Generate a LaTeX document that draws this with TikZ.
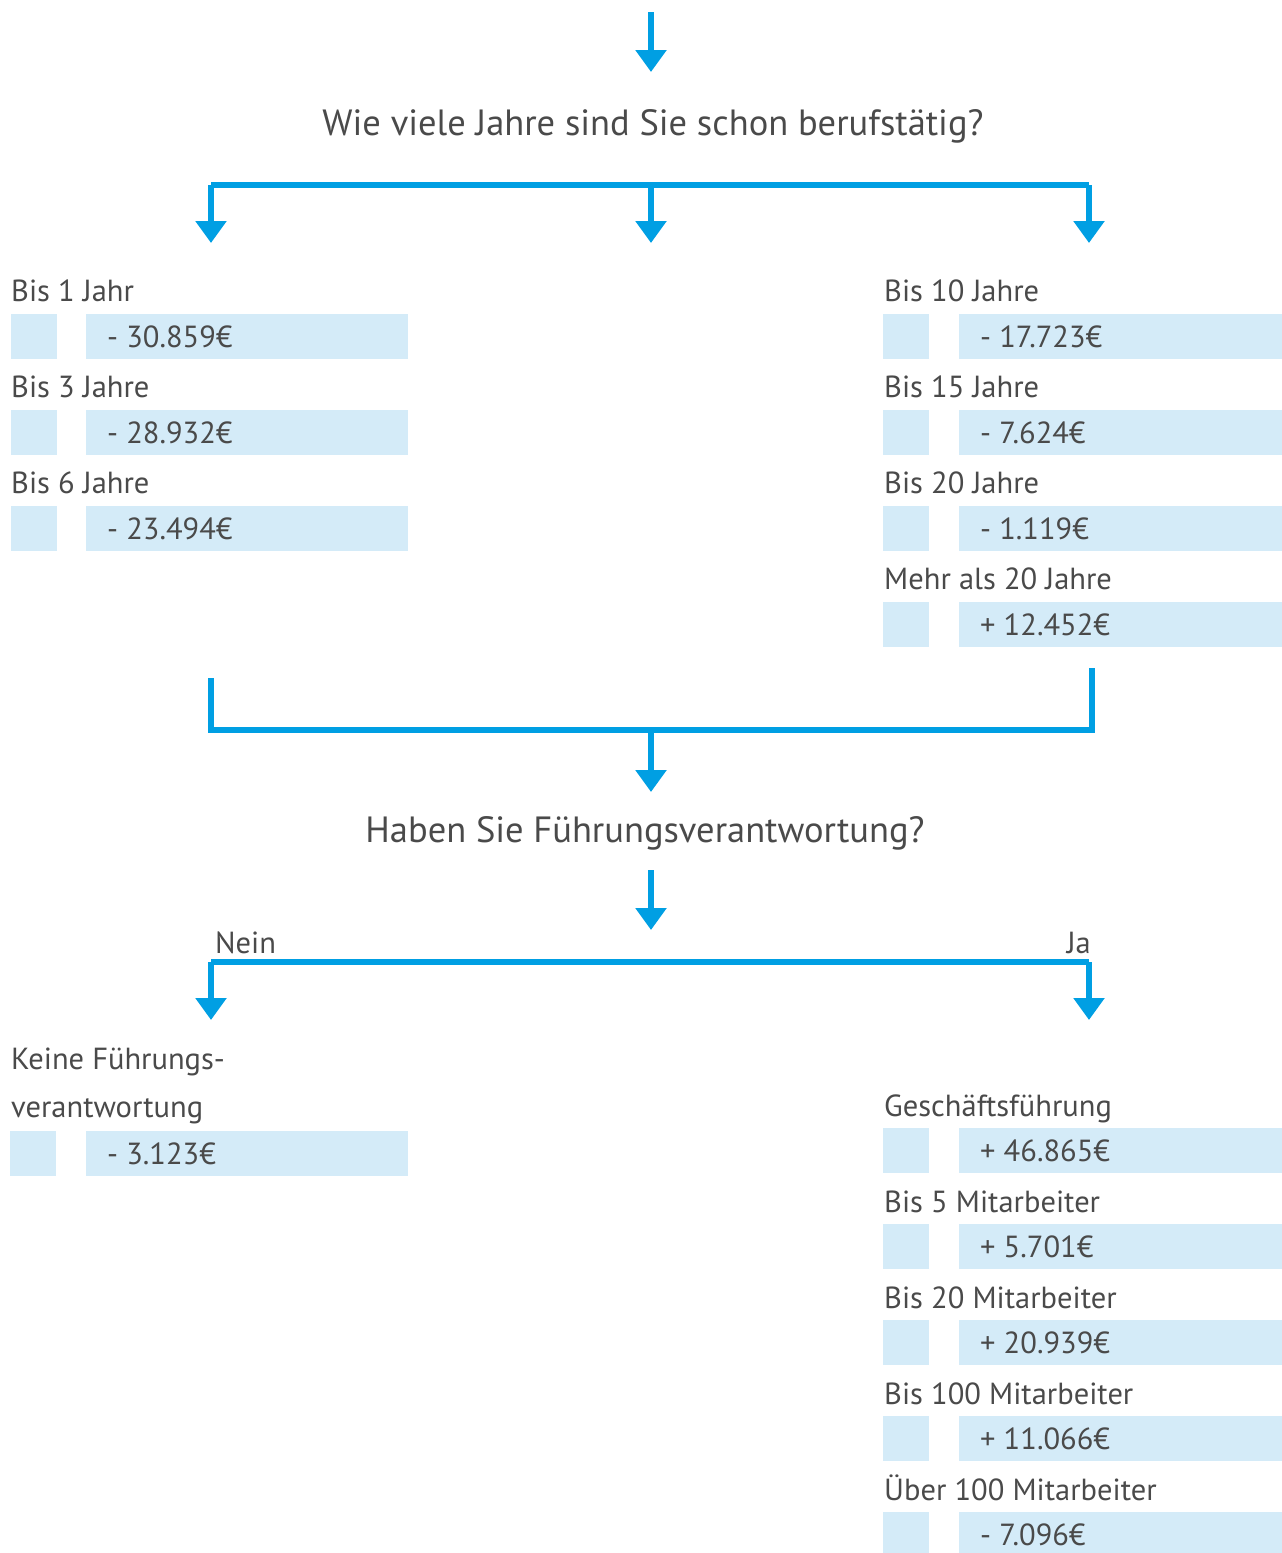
\documentclass[tikz,border=0pt]{standalone}
\usepackage{fontspec}
\setmainfont{PT Sans}
\usetikzlibrary{arrows.meta}
\definecolor{flowblue}{HTML}{009FE3}
\definecolor{boxblue}{HTML}{D4EBF8}
\definecolor{txtgray}{HTML}{4A4A4A}
\tikzset{
  flow/.style={line width=6pt, color=flowblue, line join=miter},
  tip/.style={-{Triangle[width=30pt,length=22pt]}},
  lbl/.style={anchor=base west, inner sep=0pt, text=txtgray, font=\fontsize{30.5}{36}\selectfont},
  qtxt/.style={anchor=base, inner sep=0pt, text=txtgray, font=\fontsize{36.5}{42}\selectfont},
  sbox/.style={anchor=north west, fill=boxblue, inner sep=0pt, minimum width=46pt, minimum height=45pt},
  bbox/.style={anchor=north west, fill=boxblue, inner sep=0pt, minimum height=45pt},
}
\begin{document}
\begin{tikzpicture}[x=1pt,y=-1pt]
\useasboundingbox (0,0) rectangle (1282,1553);

% questions
\node[qtxt] (q1) at (653,135) {Wie viele Jahre sind Sie schon berufstätig?};
\node[qtxt] (q2) at (645,842) {Haben Sie Führungsverantwortung?};

% top arrow
\coordinate (s0) at (651,12);
\coordinate (t0) at (651,72);
\draw[flow,tip] (s0) -- (t0);

% first branch
\coordinate (jL) at (211,185);
\coordinate (jC) at (651,185);
\coordinate (jR) at (1089,185);
\coordinate (tL) at (211,243);
\coordinate (tC) at (651,243);
\coordinate (tR) at (1089,243);
\draw[flow] (jL) -- (jR);
\draw[flow,tip] (jL) -- (tL);
\draw[flow,tip] (jC) -- (tC);
\draw[flow,tip] (jR) -- (tR);

% left column
\foreach \i/\lab/\val in {0/Bis 1 Jahr/- 30.859€, 1/Bis 3 Jahre/- 28.932€, 2/Bis 6 Jahre/- 23.494€}{
  \node[lbl] (ll\i) at (11,{301+96*\i}) {\lab};
  \node[sbox] (ls\i) at (11,{314+96*\i}) {};
  \node[bbox, minimum width=322pt] (lb\i) at (86,{314+96*\i}) {};
  \node[lbl] (lv\i) at (107,{347+96*\i}) {\val};
}

% right column
\foreach \i/\lab/\val in {0/Bis 10 Jahre/- 17.723€, 1/Bis 15 Jahre/- 7.624€, 2/Bis 20 Jahre/- 1.119€, 3/Mehr als 20 Jahre/+ 12.452€}{
  \node[lbl] (rl\i) at (884,{301+96*\i}) {\lab};
  \node[sbox] (rs\i) at (883,{314+96*\i}) {};
  \node[bbox, minimum width=323pt] (rb\i) at (959,{314+96*\i}) {};
  \node[lbl] (rv\i) at (980,{347+96*\i}) {\val};
}

% merge
\coordinate (mL0) at (211,678);
\coordinate (mL) at (211,730);
\coordinate (mC) at (651,730);
\coordinate (mR) at (1092,730);
\coordinate (mR0) at (1092,668);
\coordinate (mT) at (651,792);
\draw[flow] (mL0) -- (mL) -- (mR) -- (mR0);
\draw[flow,tip] (mC) -- (mT);

% second question arrow
\coordinate (s2) at (651,870);
\coordinate (t2) at (651,930);
\draw[flow,tip] (s2) -- (t2);

% Nein / Ja branch
\coordinate (nL) at (211,962);
\coordinate (nR) at (1089,962);
\coordinate (nLt) at (211,1020);
\coordinate (nRt) at (1089,1020);
\draw[flow] (nL) -- (nR);
\draw[flow,tip] (nL) -- (nLt);
\draw[flow,tip] (nR) -- (nRt);
\node[lbl] (nein) at (215,953) {Nein};
\node[lbl, anchor=base east] (ja) at (1091,953) {Ja};

% left bottom
\node[lbl] (k1) at (11,1069) {Keine Führungs-};
\node[lbl] (k2) at (11,1117) {verantwortung};
\node[sbox] (ks) at (10,1131) {};
\node[bbox, minimum width=322pt] (kb) at (86,1131) {};
\node[lbl] (kv) at (107,1164) {- 3.123€};

% right bottom
\foreach \i/\lab/\val in {0/Geschäftsführung/+ 46.865€, 1/Bis 5 Mitarbeiter/+ 5.701€, 2/Bis 20 Mitarbeiter/+ 20.939€, 3/Bis 100 Mitarbeiter/+ 11.066€, 4/Über 100 Mitarbeiter/- 7.096€}{
  \node[lbl] (gl\i) at (884,{1116+96*\i}) {\lab};
  \node[sbox] (gs\i) at (883,{1128+96*\i}) {};
  \node[bbox, minimum width=323pt] (gb\i) at (959,{1128+96*\i}) {};
  \node[lbl] (gv\i) at (980,{1161+96*\i}) {\val};
}
\end{tikzpicture}
\end{document}
